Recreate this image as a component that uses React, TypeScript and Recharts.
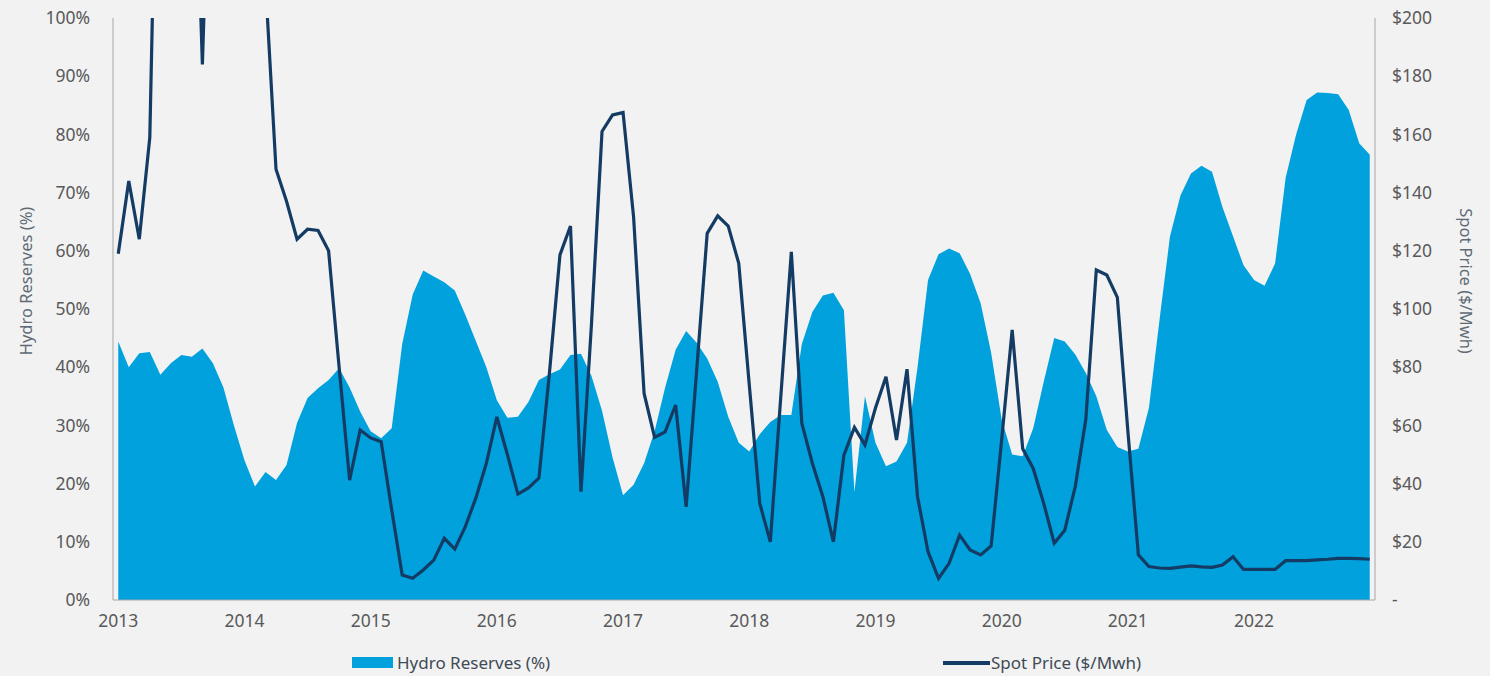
import { ComposedChart, Area, Line, XAxis, YAxis } from 'recharts'

// monthly observations, Jan 2013 .. Dec 2022
const years = [2013, 2014, 2015, 2016, 2017, 2018, 2019, 2020, 2021, 2022]

// hydro storage, % of capacity
const hydro = [
  44.4, 40.0, 42.4, 42.6, 38.7, 40.7, 42.1, 41.8, 43.2, 40.7, 36.5, 30.0,
  24.0, 19.5, 22.0, 20.6, 23.2, 30.4, 34.7, 36.4, 37.8, 39.8, 36.5, 32.4,
  29.0, 27.8, 29.5, 44.0, 52.5, 56.6, 55.6, 54.6, 53.2, 49.0, 44.5, 40.0,
  34.3, 31.3, 31.5, 34.0, 37.8, 38.8, 39.6, 42.1, 42.3, 38.5, 32.5, 24.5,
  18.0, 19.8, 23.5, 29.0, 36.5, 43.0, 46.2, 44.2, 41.5, 37.5, 31.5, 27.0,
  25.5, 28.5, 30.6, 31.8, 31.8, 44.0, 49.5, 52.3, 52.8, 49.8, 18.5, 35.0,
  27.0, 23.0, 23.8, 27.0, 40.0, 55.0, 59.4, 60.4, 59.6, 56.0, 51.0, 42.5,
  31.0, 25.0, 24.7, 29.5, 37.5, 45.0, 44.4, 42.2, 39.0, 35.0, 29.2, 26.3,
  25.5, 26.0, 33.0, 48.0, 62.4, 69.5, 73.3, 74.6, 73.6, 67.5, 62.5, 57.5,
  55.0, 54.0, 57.8, 72.5, 80.0, 85.9, 87.2, 87.1, 86.9, 84.2, 78.5, 76.5,
]

// wholesale spot price, $/MWh
const spot = [
  119, 144, 124, 159, 330, 310, 290, 295, 184, 300, 290, 275,
  260, 240, 212, 148, 137, 124, 127.4, 127, 120, 80, 41.2, 58.4,
  55.7, 54.4, 31, 8.6, 7.5, 10.3, 13.7, 21.2, 17.5, 25.2, 35, 47,
  62.9, 50, 36.4, 38.5, 41.9, 78, 118.6, 128.5, 37.2, 95, 161, 166.7,
  167.5, 131.7, 71, 55.9, 57.8, 67, 32, 79, 126, 132, 128.5, 115.7,
  74, 33.2, 20, 70, 119.6, 60.7, 47, 35.5, 20, 49.8, 59.3, 53.3,
  66, 76.7, 55, 79.3, 35.5, 16.6, 7.4, 12.6, 22.3, 17.2, 15.5, 18.6,
  55, 92.8, 52, 45.2, 33.2, 19.5, 24, 39, 62, 113.4, 111.7, 104,
  58, 15.5, 11.5, 11, 10.9, 11.3, 11.7, 11.4, 11.2, 12, 14.9, 10.5,
  10.5, 10.5, 10.5, 13.5, 13.5, 13.5, 13.8, 14, 14.3, 14.3, 14.2, 14,
]

const pctTicks = [0, 10, 20, 30, 40, 50, 60, 70, 80, 90, 100]
const priceTicks = [0, 20, 40, 60, 80, 100, 120, 140, 160, 180, 200]

const data = hydro.map((h, i) => ({ m: i, hydro: h, spot: spot[i] }))
const yearTicks = years.map((_, k) => k * 12)

const AREA = '#00a1dd'
const LINE = '#133b63'
const FONT = '"Noto Sans", Lato, sans-serif'
const tick = { fontSize: 17.5, fill: '#595959', fontFamily: FONT }

// rotated axis title, placed relative to the axis box
function SideLabel({ viewBox, title, shiftX, rotation }: any) {
  const cx = viewBox.x + shiftX
  const cy = viewBox.y + viewBox.height / 2 - 28
  return (
    <text
      x={cx}
      y={cy}
      transform={`rotate(${rotation}, ${cx}, ${cy})`}
      textAnchor="middle"
      dominantBaseline="central"
      fill="#5e6a75"
      fontSize={16.5}
      fontFamily={FONT}
    >
      {title}
    </text>
  )
}

export default function App() {
  return (
    <div style={{ position: 'absolute', left: 0, top: 0, width: 1490, height: 676, background: '#f2f2f2', fontFamily: FONT }}>
      <ComposedChart width={1490} height={645} data={data} margin={{ top: 18, right: 0, bottom: 0, left: 0 }}>
        <XAxis
          dataKey="m"
          type="number"
          domain={[-0.5, 119.5]}
          ticks={yearTicks}
          tickFormatter={(v: number) => String(years[v / 12])}
          tick={tick}
          tickLine={false}
          tickSize={0}
          tickMargin={15}
          height={45}
          axisLine={{ stroke: '#a6a6a6' }}
        />
        <YAxis
          yAxisId="pct"
          domain={[0, 100]}
          ticks={pctTicks}
          tickFormatter={(v: number) => `${v}%`}
          tick={tick}
          tickLine={false}
          tickSize={0}
          tickMargin={23}
          width={113}
          axisLine={{ stroke: '#a6a6a6' }}
          label={<SideLabel title="Hydro Reserves (%)" shiftX={25} rotation={-90} />}
        />
        <YAxis
          yAxisId="price"
          orientation="right"
          domain={[0, 200]}
          allowDataOverflow
          ticks={priceTicks}
          tickFormatter={(v: number) => (v === 0 ? '-' : `$${v}`)}
          tick={tick}
          tickLine={false}
          tickSize={0}
          tickMargin={17}
          width={115}
          axisLine={{ stroke: '#a6a6a6' }}
          label={<SideLabel title="Spot Price ($/Mwh)" shiftX={91} rotation={90} />}
        />
        <Area
          yAxisId="pct"
          type="linear"
          dataKey="hydro"
          name="Hydro Reserves (%)"
          fill={AREA}
          fillOpacity={1}
          stroke="none"
          isAnimationActive={false}
        />
        <Line
          yAxisId="price"
          type="linear"
          dataKey="spot"
          name="Spot Price ($/Mwh)"
          stroke={LINE}
          strokeWidth={3.2}
          dot={false}
          isAnimationActive={false}
        />
      </ComposedChart>
      {/* legend */}
      <div style={{ position: 'absolute', top: 651, left: 352, display: 'flex', alignItems: 'center', fontSize: 17, color: '#404a55' }}>
        <span style={{ display: 'inline-block', width: 41, height: 11, background: AREA, marginRight: 4 }} />
        Hydro Reserves (%)
      </div>
      <div style={{ position: 'absolute', top: 651, left: 943, display: 'flex', alignItems: 'center', fontSize: 17, color: '#404a55' }}>
        <span style={{ display: 'inline-block', width: 47, height: 4, background: LINE, marginRight: 1 }} />
        Spot Price ($/Mwh)
      </div>
    </div>
  )
}
